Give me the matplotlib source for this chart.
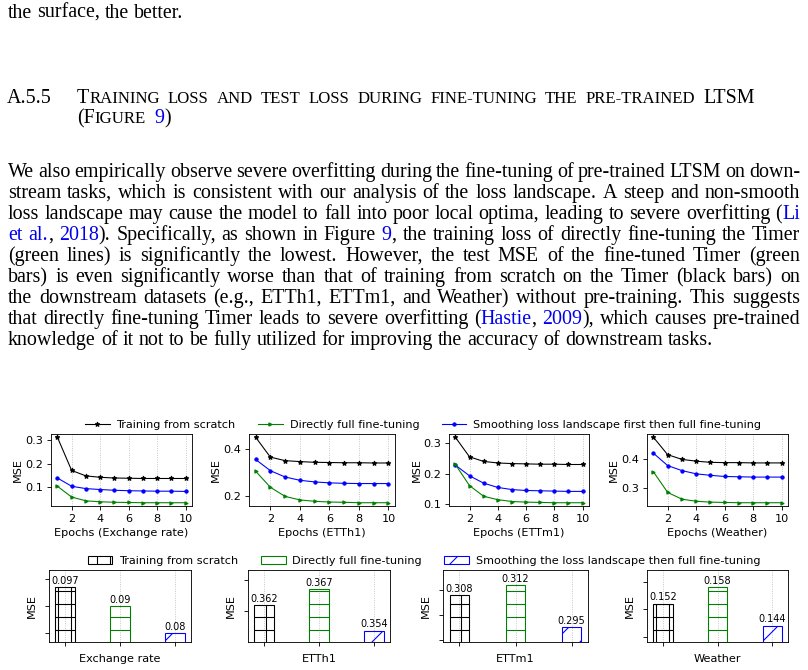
import numpy as np
import matplotlib
matplotlib.use("Agg")
import matplotlib.pyplot as plt
from matplotlib.lines import Line2D
from matplotlib.patches import Patch

# training loss per epoch
epochs = np.arange(1, 11)

exchange_scratch = [0.312, 0.171, 0.148, 0.142, 0.139, 0.138, 0.137, 0.137, 0.137, 0.137]
exchange_direct = [0.104, 0.058, 0.042, 0.038, 0.036, 0.035, 0.034, 0.034, 0.034, 0.034]
exchange_smooth = [0.139, 0.104, 0.094, 0.090, 0.087, 0.085, 0.084, 0.083, 0.083, 0.082]

etth1_scratch = [0.452, 0.367, 0.352, 0.348, 0.345, 0.344, 0.343, 0.343, 0.342, 0.342]
etth1_direct = [0.307, 0.238, 0.199, 0.184, 0.178, 0.175, 0.174, 0.172, 0.172, 0.172]
etth1_smooth = [0.357, 0.309, 0.282, 0.268, 0.261, 0.257, 0.255, 0.254, 0.254, 0.254]

ettm1_scratch = [0.319, 0.255, 0.240, 0.235, 0.233, 0.232, 0.231, 0.231, 0.230, 0.230]
ettm1_direct = [0.230, 0.161, 0.126, 0.115, 0.109, 0.107, 0.106, 0.105, 0.105, 0.105]
ettm1_smooth = [0.228, 0.193, 0.169, 0.155, 0.148, 0.145, 0.144, 0.143, 0.142, 0.142]

weather_scratch = [0.473, 0.414, 0.398, 0.392, 0.388, 0.387, 0.387, 0.386, 0.386, 0.386]
weather_direct = [0.356, 0.286, 0.263, 0.256, 0.253, 0.252, 0.251, 0.251, 0.251, 0.251]
weather_smooth = [0.419, 0.377, 0.360, 0.349, 0.344, 0.340, 0.339, 0.338, 0.338, 0.338]

# test MSE: scratch, direct fine-tuning, smoothed fine-tuning
exchange_mse = [0.097, 0.09, 0.08]
etth1_mse = [0.362, 0.367, 0.354]
ettm1_mse = [0.308, 0.312, 0.295]
weather_mse = [0.152, 0.158, 0.144]

dataset_names = ["Exchange rate", "ETTh1", "ETTm1", "Weather"]
loss_yticks = [[0.1, 0.2, 0.3], [0.2, 0.4], [0.1, 0.2, 0.3], [0.3, 0.4]]
bar_yticks = [[0.08, 0.09, 0.10], [0.36, 0.37], [0.29, 0.30, 0.31], [0.14, 0.15, 0.16]]
bar_ylims = [(0.0765, 0.1034), (0.3504, 0.373), (0.289, 0.318), (0.138, 0.1642)]

line_labels = ["Training from scratch", "Directly full fine-tuning",
               "Smoothing loss landscape first then full fine-tuning"]
bar_labels = ["Training from scratch", "Directly full fine-tuning",
              "Smoothing the loss landscape then full fine-tuning"]

# page text ({...} = blue link text)
top_line = "the surface, the better."
heading_num = "A.5.5"
heading_1 = "Training loss and test loss during fine-tuning the pre-trained LTSM"
heading_2 = "(Figure {9})"
paragraph = [
    "We also empirically observe severe overfitting during the fine-tuning of pre-trained LTSM on down-",
    "stream tasks, which is consistent with our analysis of the loss landscape. A steep and non-smooth",
    "loss landscape may cause the model to fall into poor local optima, leading to severe overfitting ({Li}",
    "{et} {al.}, {2018}). Specifically, as shown in Figure {9}, the training loss of directly fine-tuning the Timer",
    "(green lines) is significantly the lowest. However, the test MSE of the fine-tuned Timer (green",
    "bars) is even significantly worse than that of training from scratch on the Timer (black bars) on",
    "the downstream datasets (e.g., ETTh1, ETTm1, and Weather) without pre-training. This suggests",
    "that directly fine-tuning Timer leads to severe overfitting ({Hastie}, {2009}), which causes pre-trained",
    "knowledge of it not to be fully utilized for improving the accuracy of downstream tasks.",
]

DPI = 78
W, H = 808, 670
fig = plt.figure(figsize=(W / DPI, H / DPI), dpi=DPI)
renderer = fig.canvas.get_renderer()


def fpos(x, y):
    return x / W, 1 - y / H


def pts(size_px):
    return size_px * 72 / DPI


SERIF = "Liberation Serif"
EM = 20.0
LINK = "#0000ee"


def parse(word):
    # split a word into (text, colour) runs
    segs, cur, col = [], "", "black"
    for ch in word:
        if ch in "{}":
            if cur:
                segs.append((cur, col))
            cur = ""
            col = LINK if ch == "{" else "black"
        else:
            cur += ch
    if cur:
        segs.append((cur, col))
    return segs


def width_of(t):
    return t.get_window_extent(renderer).width


def put_line(line, y, left=8, right=800, justify=True):
    words = []
    for w in line.split():
        texts = [fig.text(0, 0, s, color=c, family=SERIF, fontsize=pts(EM), va="baseline")
                 for s, c in parse(w)]
        words.append((texts, [width_of(t) for t in texts]))
    total = sum(sum(ws) for _, ws in words)
    gap = (right - left - total) / (len(words) - 1) if justify else EM * 0.25
    x = left
    for texts, ws in words:
        for t, w in zip(texts, ws):
            t.set_position(fpos(x, y))
            x += w
        x += gap


def put_smallcaps(line, x, y):
    for w in line.split():
        for s, c in parse(w):
            runs, cur, small = [], "", None
            for ch in s:
                is_small = ch.islower() or (ch == "-" and small)
                if small is not None and is_small != small:
                    runs.append((cur, small))
                    cur = ""
                cur += ch
                small = is_small
            runs.append((cur, small))
            for r, sm in runs:
                size = EM * 0.84 if sm else EM
                t = fig.text(*fpos(x, y), r.upper(), color=c, family=SERIF,
                             fontsize=pts(size), va="baseline")
                x += width_of(t)
        x += EM * 0.4


put_line(top_line, 18, justify=False)
fig.text(*fpos(7, 103), heading_num, family=SERIF, fontsize=pts(EM), va="baseline")
put_smallcaps(heading_1, 77, 103)
put_smallcaps(heading_2, 77, 123)
for i, line in enumerate(paragraph):
    put_line(line, 177 + 21 * i, justify=(i < len(paragraph) - 1))

# ---- loss curves ----
FS = 10.4
loss_sets = [
    (exchange_scratch, exchange_direct, exchange_smooth),
    (etth1_scratch, etth1_direct, etth1_smooth),
    (ettm1_scratch, ettm1_direct, ettm1_smooth),
    (weather_scratch, weather_direct, weather_smooth),
]
line_lefts = [51, 249, 449, 647]
line_rights = [192, 395, 589, 788]
for i, (scratch, direct, smooth) in enumerate(loss_sets):
    l, r = line_lefts[i], line_rights[i]
    ax = fig.add_axes([l / W, 1 - 506 / H, (r - l) / W, 72 / H])
    ax.plot(epochs, scratch, color="black", marker="*", ms=4.5, lw=1)
    ax.plot(epochs, smooth, color="blue", marker="o", ms=3, lw=1)
    ax.plot(epochs, direct, color="green", marker=">", ms=3, lw=1)
    ax.set_xticks([2, 4, 6, 8, 10])
    ax.set_yticks(loss_yticks[i])
    ax.grid(axis="x", linestyle=":", color="#bbbbbb", lw=0.8)
    ax.tick_params(labelsize=FS)
    ax.set_xlabel(f"Epochs ({dataset_names[i]})", fontsize=FS, labelpad=4)
    ax.set_ylabel("MSE", fontsize=FS, labelpad=2)

line_handles = [
    Line2D([], [], color="black", marker="*", ms=4.5, lw=1),
    Line2D([], [], color="green", marker=">", ms=3, lw=1),
    Line2D([], [], color="blue", marker="o", ms=3, lw=1),
]
fig.legend(line_handles, line_labels, loc="center", bbox_to_anchor=fpos(423, 425),
           ncol=3, frameon=False, fontsize=FS, handlelength=2.2, columnspacing=2.0,
           borderpad=0, handletextpad=0.6)

# ---- test MSE bars ----
bar_sets = [exchange_mse, etth1_mse, ettm1_mse, weather_mse]
bar_lefts = [49, 248, 443, 647]
bar_rights = [191, 390, 588, 788]
bar_colors = ["black", "green", "blue"]
bar_hatches = ["+", "-", "/"]
xs = np.arange(3)
for i, vals in enumerate(bar_sets):
    l, r = bar_lefts[i], bar_rights[i]
    ax = fig.add_axes([l / W, 1 - 642 / H, (r - l) / W, 72 / H])
    for j in range(3):
        b = ax.bar(xs[j], vals[j], width=0.35, color="none", edgecolor=bar_colors[j],
                   hatch=bar_hatches[j], lw=1, bottom=0)
        ax.bar_label(b, labels=[str(vals[j])], fontsize=9, padding=1)
    ax.set_ylim(*bar_ylims[i])
    ax.set_yticks(bar_yticks[i])
    ax.set_yticklabels([])
    ax.set_xticks(xs)
    ax.set_xticklabels([])
    ax.grid(axis="x", linestyle=":", color="#bbbbbb", lw=0.8)
    ax.set_axisbelow(True)
    ax.set_xlabel(dataset_names[i], fontsize=FS, labelpad=4)
    ax.set_ylabel("MSE", fontsize=FS, labelpad=4)

bar_handles = [Patch(facecolor="none", edgecolor=c, hatch=h) for c, h in zip(bar_colors, bar_hatches)]
fig.legend(bar_handles, bar_labels, loc="center", bbox_to_anchor=fpos(424, 561),
           ncol=3, frameon=False, fontsize=FS, handlelength=2.2, handleheight=0.7,
           columnspacing=2.0, borderpad=0, handletextpad=0.6)

fig.savefig("out.png", dpi=DPI)
